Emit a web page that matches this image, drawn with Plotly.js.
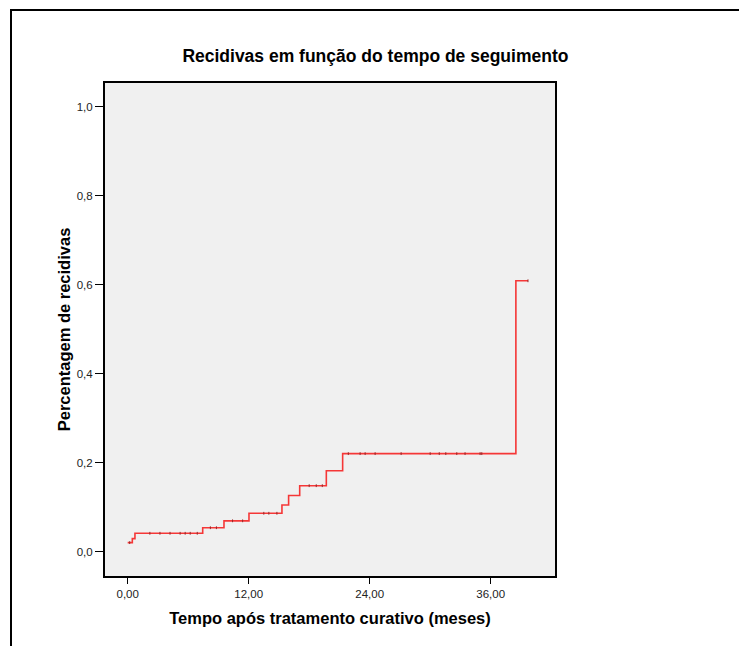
<!DOCTYPE html>
<html>
<head>
<meta charset="utf-8">
<script src="https://cdn.plot.ly/plotly-3.0.1.min.js"></script>
<style>html,body{margin:0;padding:0;background:#fff;}#chart{width:739px;height:646px;}</style>
</head>
<body>
<div id="chart"></div>
<script>
// Step (Kaplan-Meier style) cumulative recurrence curve
var stepTimes  = [0, 0.46, 0.72, 7.44, 9.55, 12.03, 15.3, 15.96, 17.06, 19.7, 21.32, 38.5, 39.7];
var stepValues = [0.020, 0.029, 0.041, 0.0535, 0.069, 0.086, 0.1045, 0.126, 0.148, 0.1816, 0.22, 0.6085, 0.6085];

// Censored observations (small marks on the curve)
var censorTimes  = [0.2, 2.2, 3.2, 4.2, 5.2, 5.7, 6.2, 6.9, 8.2, 8.8, 10.4, 11.4, 13.5, 14.0, 14.8, 18.0, 18.7, 19.3, 21.88, 23.05, 23.55, 24.54, 27.12, 30.0, 30.9, 31.55, 32.64, 33.46, 34.95, 35.12, 39.7];
var censorValues = [0.020, 0.041, 0.041, 0.041, 0.041, 0.041, 0.041, 0.041, 0.0535, 0.0535, 0.069, 0.069, 0.086, 0.086, 0.086, 0.148, 0.148, 0.148, 0.22, 0.22, 0.22, 0.22, 0.22, 0.22, 0.22, 0.22, 0.22, 0.22, 0.22, 0.22, 0.6085];

var xTickVals = [0, 12, 24, 36];
var yTickVals = [0, 0.2, 0.4, 0.6, 0.8, 1.0];

var chartTitle = "Recidivas em função do tempo de seguimento";
var xTitle = "Tempo após tratamento curativo (meses)";
var yTitle = "Percentagem de recidivas";

var traces = [
  {
    x: stepTimes, y: stepValues, type: "scatter", mode: "lines",
    line: {shape: "hv", color: "rgb(245,55,55)", width: 1.6},
    hoverinfo: "x+y", showlegend: false
  },
  {
    x: censorTimes, y: censorValues, type: "scatter", mode: "markers",
    marker: {symbol: "line-ns-open", size: 2, color: "rgb(150,40,40)", line: {width: 1, color: "rgb(150,40,40)"}},
    hoverinfo: "x+y", showlegend: false
  }
];

var fontFam = "Liberation Sans, Arial, sans-serif";

var layout = {
  width: 739, height: 646,
  margin: {l: 105, r: 184, t: 83, b: 70},
  paper_bgcolor: "#ffffff",
  plot_bgcolor: "#f0f0f0",
  separators: ", ",
  font: {family: fontFam, color: "#000"},
  title: {
    text: "<b>" + chartTitle + "</b>",
    font: {family: fontFam, size: 17.5, color: "#000"},
    x: 0.508, xref: "container", xanchor: "center",
    y: 1 - 56/646, yref: "container", yanchor: "middle"
  },
  xaxis: {
    range: [-2.25, 42.38],
    tickvals: xTickVals, tickformat: ".2f",
    ticks: "outside", ticklen: 6, tickwidth: 1.5, tickcolor: "#000",
    tickfont: {family: fontFam, size: 11.5, color: "#222"},
    showline: true, mirror: true, linecolor: "#000", linewidth: 2,
    showgrid: false, zeroline: false,
    title: {text: "<b>" + xTitle + "</b>", font: {family: fontFam, size: 16.5, color: "#000"}, standoff: 14}
  },
  yaxis: {
    range: [-0.055, 1.053],
    tickvals: yTickVals, tickformat: ".1f",
    ticks: "outside", ticklen: 8, tickwidth: 1.5, tickcolor: "#000",
    tickfont: {family: fontFam, size: 11.5, color: "#222"},
    showline: true, mirror: true, linecolor: "#000", linewidth: 2,
    showgrid: false, zeroline: false,
    title: {text: "<b>" + yTitle + "</b>", font: {family: fontFam, size: 16.5, color: "#000"}, standoff: 2}
  },
  shapes: [
    {type: "rect", xref: "paper", yref: "paper",
     x0: (11 - 105) / 450, x1: (760 - 105) / 450,
     y0: (576 - 670) / 493, y1: (576 - 10) / 493,
     line: {color: "#000", width: 2}, fillcolor: "rgba(0,0,0,0)", layer: "below"}
  ]
};

Plotly.newPlot("chart", traces, layout, {displayModeBar: false, staticPlot: true});
</script>
</body>
</html>
